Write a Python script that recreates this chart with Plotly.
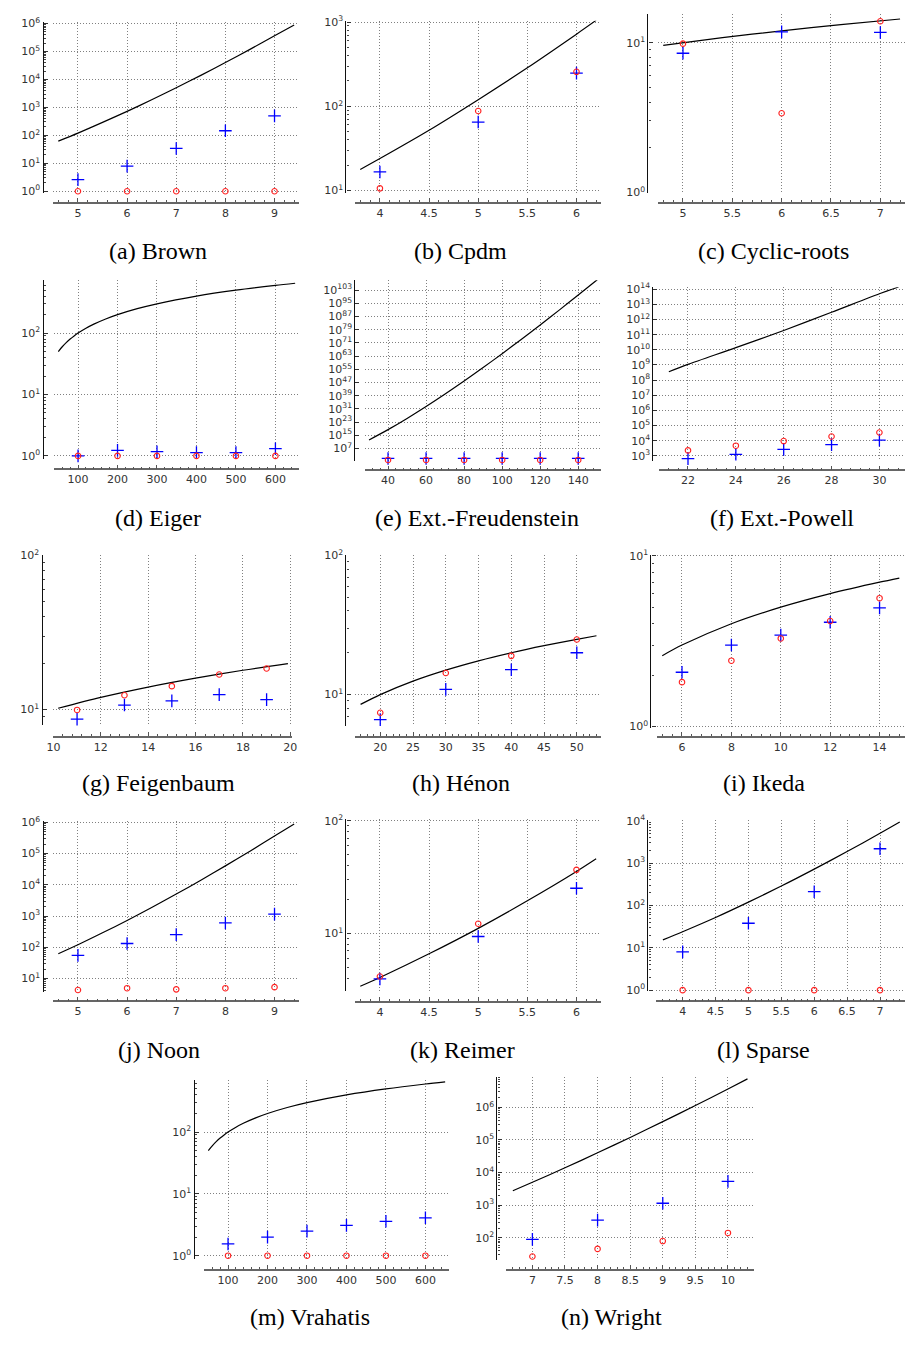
import plotly.graph_objects as go

W, H = 910, 1346

# ---------------- data ----------------
# (a) Brown
brown_n = [5, 6, 7, 8, 9]
brown_plus = [2.6, 7.9, 34, 146, 495]
brown_circ = [1, 1, 1, 1, 1]
brown_curve_x = [4.6, 5, 5.5, 6, 6.5, 7, 7.5, 8, 8.5, 9, 9.4]
brown_curve_y = [62, 120, 290, 720, 1870, 5040, 14000, 40300, 119000, 363000, 880000]
brown_xticks = [5, 6, 7, 8, 9]
brown_ydec = [0, 1, 2, 3, 4, 5, 6]

# (b) Cpdm
cpdm_n = [4, 5, 6]
cpdm_plus = [16.6, 65, 248]
cpdm_circ = [10.6, 88, 257]
cpdm_curve_x = [3.8, 4, 4.5, 5, 5.5, 6, 6.2]
cpdm_curve_y = [17.8, 24, 52, 120, 287, 720, 1050]
cpdm_xticks = [4, 4.5, 5, 5.5, 6]
cpdm_ydec = [1, 2, 3]

# (c) Cyclic-roots
cyc_n = [5, 6, 7]
cyc_plus = [8.5, 11.8, 11.7]
cyc_circ = [9.85, 3.38, 13.9]
cyc_curve_x = [4.8, 5.4, 6, 6.6, 7.2]
cyc_curve_y = [9.6, 10.8, 12, 13.2, 14.4]
cyc_xticks = [5, 5.5, 6, 6.5, 7]
cyc_ydec = [0, 1]

# (d) Eiger
eig_n = [100, 200, 300, 400, 500, 600]
eig_plus = [1.0, 1.23, 1.17, 1.13, 1.13, 1.31]
eig_circ = [1, 1, 1, 1, 1, 1]
eig_curve_x = [50, 60, 70, 80, 90, 100, 120, 140, 170, 200, 250, 300, 400, 500, 600, 650]
eig_curve_y = [50, 60, 70, 80, 90, 100, 120, 140, 170, 200, 250, 300, 400, 500, 600, 650]
eig_xticks = [100, 200, 300, 400, 500, 600]
eig_ydec = [0, 1, 2]

# (e) Ext.-Freudenstein
fre_n = [40, 60, 80, 100, 120, 140]
fre_plus = [8, 8, 8, 8, 8, 8]
fre_circ = [1, 1, 1, 1, 1, 1]
fre_curve_x = [30, 40, 50, 60, 70, 80, 90, 100, 110, 120, 130, 140, 150]
fre_curve_y = [1.31e12, 2.43e18, 1.55e25, 2.65e32, 1.03e40, 8.16e47, 1.20e56,
               3.04e64, 1.27e73, 8.32e81, 8.25e90, 1.20e100, 2.48e109]
fre_xticks = [40, 60, 80, 100, 120, 140]
fre_ydec = [7, 15, 23, 31, 39, 47, 55, 63, 71, 79, 87, 95, 103]

# (f) Ext.-Powell
pow_n = [22, 24, 26, 28, 30]
pow_plus = [660, 1270, 2700, 5500, 11000]
pow_circ = [2300, 4700, 9500, 19000, 35000]
pow_curve_x = [21.2, 22, 24, 26, 28, 30, 30.8]
pow_curve_y = [3.6e8, 1.1e9, 1.4e10, 1.9e11, 3.0e12, 5.0e13, 1.4e14]
pow_xticks = [22, 24, 26, 28, 30]
pow_ydec = [3, 4, 5, 6, 7, 8, 9, 10, 11, 12, 13, 14]

# (g) Feigenbaum
fei_n = [11, 13, 15, 17, 19]
fei_plus = [8.66, 10.7, 11.4, 12.5, 11.6]
fei_circ = [9.95, 12.4, 14.2, 16.9, 18.5]
fei_curve_x = [10.2, 12, 14, 16, 18, 19.9]
fei_curve_y = [10.2, 12, 14, 16, 18, 19.9]
fei_xticks = [10, 12, 14, 16, 18, 20]
fei_ydec = [1, 2]

# (h) Hénon
hen_n = [20, 30, 40, 50]
hen_plus = [6.6, 10.9, 15.1, 20]
hen_circ = [7.4, 14.3, 19, 24.9]
hen_curve_x = [17, 20, 25, 30, 35, 40, 45, 50, 53]
hen_curve_y = [8.5, 10, 12.5, 15, 17.5, 20, 22.5, 25, 26.5]
hen_xticks = [20, 25, 30, 35, 40, 45, 50]
hen_ydec = [1, 2]

# (i) Ikeda
ike_n = [6, 8, 10, 12, 14]
ike_plus = [2.08, 3.0, 3.43, 4.08, 4.95]
ike_circ = [1.82, 2.43, 3.28, 4.15, 5.64]
ike_curve_x = [5.2, 6, 8, 10, 12, 14, 14.8]
ike_curve_y = [2.6, 3, 4, 5, 6, 7, 7.4]
ike_xticks = [6, 8, 10, 12, 14]
ike_ydec = [0, 1]

# (j) Noon
noon_n = [5, 6, 7, 8, 9]
noon_plus = [55, 132, 255, 600, 1150]
noon_circ = [4.3, 4.9, 4.5, 4.9, 5.3]
noon_curve_x = [4.6, 5, 5.5, 6, 6.5, 7, 7.5, 8, 8.5, 9, 9.4]
noon_curve_y = [62, 120, 290, 720, 1870, 5040, 14000, 40300, 119000, 363000, 880000]
noon_xticks = [5, 6, 7, 8, 9]
noon_ydec = [1, 2, 3, 4, 5, 6]

# (k) Reimer
rei_n = [4, 5, 6]
rei_plus = [3.95, 9.4, 25.2]
rei_circ = [4.15, 12.2, 36.7]
rei_curve_x = [3.8, 4, 4.5, 5, 5.5, 6, 6.2]
rei_curve_y = [3.4, 4.07, 6.6, 11.1, 19.5, 35.5, 46]
rei_xticks = [4, 4.5, 5, 5.5, 6]
rei_ydec = [1, 2]

# (l) Sparse
spa_n = [4, 5, 6, 7]
spa_plus = [8.0, 38, 211, 2180]
spa_circ = [1, 1, 1, 1]
spa_curve_x = [3.7, 4, 4.5, 5, 5.5, 6, 6.5, 7, 7.3]
spa_curve_y = [15.4, 24, 52, 120, 287, 720, 1870, 5040, 9300]
spa_xticks = [4, 4.5, 5, 5.5, 6, 6.5, 7]
spa_ydec = [0, 1, 2, 3, 4]

# (m) Vrahatis
vra_n = [100, 200, 300, 400, 500, 600]
vra_plus = [1.55, 2.0, 2.5, 3.1, 3.6, 4.1]
vra_circ = [1, 1, 1, 1, 1, 1]
vra_curve_x = [50, 60, 70, 80, 90, 100, 120, 140, 170, 200, 250, 300, 400, 500, 600, 650]
vra_curve_y = [50, 60, 70, 80, 90, 100, 120, 140, 170, 200, 250, 300, 400, 500, 600, 650]
vra_xticks = [100, 200, 300, 400, 500, 600]
vra_ydec = [0, 1, 2]

# (n) Wright
wri_n = [7, 8, 9, 10]
wri_plus = [90, 350, 1150, 5400]
wri_circ = [27, 46, 80, 142]
wri_curve_x = [6.7, 7, 7.5, 8, 8.5, 9, 9.5, 10, 10.3]
wri_curve_y = [2770, 5040, 14000, 40300, 119000, 363000, 1130000, 3630000, 7400000]
wri_xticks = [7, 7.5, 8, 8.5, 9, 9.5, 10]
wri_ydec = [2, 3, 4, 5, 6]

panels = [
    ("(a) Brown", brown_n, brown_plus, brown_circ, brown_curve_x, brown_curve_y, brown_xticks, brown_ydec),
    ("(b) Cpdm", cpdm_n, cpdm_plus, cpdm_circ, cpdm_curve_x, cpdm_curve_y, cpdm_xticks, cpdm_ydec),
    ("(c) Cyclic-roots", cyc_n, cyc_plus, cyc_circ, cyc_curve_x, cyc_curve_y, cyc_xticks, cyc_ydec),
    ("(d) Eiger", eig_n, eig_plus, eig_circ, eig_curve_x, eig_curve_y, eig_xticks, eig_ydec),
    ("(e) Ext.-Freudenstein", fre_n, fre_plus, fre_circ, fre_curve_x, fre_curve_y, fre_xticks, fre_ydec),
    ("(f) Ext.-Powell", pow_n, pow_plus, pow_circ, pow_curve_x, pow_curve_y, pow_xticks, pow_ydec),
    ("(g) Feigenbaum", fei_n, fei_plus, fei_circ, fei_curve_x, fei_curve_y, fei_xticks, fei_ydec),
    ("(h) Hénon", hen_n, hen_plus, hen_circ, hen_curve_x, hen_curve_y, hen_xticks, hen_ydec),
    ("(i) Ikeda", ike_n, ike_plus, ike_circ, ike_curve_x, ike_curve_y, ike_xticks, ike_ydec),
    ("(j) Noon", noon_n, noon_plus, noon_circ, noon_curve_x, noon_curve_y, noon_xticks, noon_ydec),
    ("(k) Reimer", rei_n, rei_plus, rei_circ, rei_curve_x, rei_curve_y, rei_xticks, rei_ydec),
    ("(l) Sparse", spa_n, spa_plus, spa_circ, spa_curve_x, spa_curve_y, spa_xticks, spa_ydec),
    ("(m) Vrahatis", vra_n, vra_plus, vra_circ, vra_curve_x, vra_curve_y, vra_xticks, vra_ydec),
    ("(n) Wright", wri_n, wri_plus, wri_circ, wri_curve_x, wri_curve_y, wri_xticks, wri_ydec),
]

# ---------------- layout geometry (pixels) ----------------
geom = [
    dict(l=47, r=296, t=15, b=188, ys=36, xs=198, xr=[4.5, 9.5], yr=[-0.07, 6.06], xm=0.2, ym="D1", cap=(153, 246)),
    dict(l=353, r=602, t=14, b=188, ys=343, xs=198, xr=[3.75, 6.25], yr=[0.968, 3.015], xm=0.1, ym="D1", cap=(460, 246)),
    dict(l=660, r=910, t=7, b=188, ys=649, xs=198, xr=[4.75, 7.25], yr=[-0.005, 1.192], xm=0.1, ym="D1", cap=(777, 246)),
    dict(l=48, r=296, t=276, b=456, ys=36, xs=467, xr=[40, 660], yr=[-0.044, 2.86], xm=20, ym="D1", cap=(153, 516)),
    dict(l=363, r=602, t=276, b=458, ys=352, xs=468, xr=[28, 152], yr=[-0.39, 109.0], xm=4, ym=None, cap=(476, 516)),
    dict(l=661, r=910, t=283, b=458, ys=654, xs=468, xr=[20.8, 31.07], yr=[2.69, 14.13], xm=0.4, ym=None, cap=(785, 516)),
    dict(l=47, r=289, t=553, b=725, ys=35, xs=737, xr=[10, 20.08], yr=[0.9, 2.006], xm=0.4, ym="D1", cap=(154, 784)),
    dict(l=353, r=602, t=553, b=726, ys=343, xs=737, xr=[16.2, 53.7], yr=[0.774, 2.007], xm=1, ym="D1", cap=(460, 784)),
    dict(l=659, r=910, t=553, b=728, ys=652, xs=737, xr=[5, 15.03], yr=[-0.008, 1.006], xm=0.4, ym="D1", cap=(767, 784)),
    dict(l=47, r=296, t=822, b=995, ys=36, xs=1004, xr=[4.5, 9.5], yr=[0.556, 6.04], xm=0.2, ym="D1", cap=(154, 1053)),
    dict(l=353, r=602, t=820, b=994, ys=343, xs=1005, xr=[3.75, 6.25], yr=[0.486, 2.015], xm=0.1, ym="D1", cap=(462, 1053)),
    dict(l=658, r=910, t=821, b=994, ys=649, xs=1004, xr=[3.6, 7.38], yr=[-0.03, 4.016], xm=0.1, ym="D1", cap=(767, 1053)),
    dict(l=200, r=448, t=1083, b=1264, ys=189, xs=1275, xr=[40, 660], yr=[-0.05, 2.85], xm=20, ym="D1", cap=(307, 1323)),
    dict(l=506, r=757, t=1080, b=1265, ys=496, xs=1275, xr=[6.6, 10.4], yr=[1.33, 6.94], xm=0.1, ym="D1", cap=(613, 1323)),
]

TICKFONT = dict(family="DejaVu Sans", size=11, color="#333333")
GRID = dict(showgrid=True, gridcolor="#808080", griddash="1px,2px", gridwidth=1)

fig = go.Figure()
layout = {}
annotations = []
for i, (p, g) in enumerate(zip(panels, geom), start=1):
    cap, xn, plus, circ, cx, cy, xt, yd = p
    xa = "x" if i == 1 else f"x{i}"
    ya = "y" if i == 1 else f"y{i}"
    fig.add_trace(go.Scatter(x=cx, y=cy, mode="lines", xaxis=xa, yaxis=ya,
                             line=dict(color="black", width=1.2, shape="spline", smoothing=0.8),
                             showlegend=False, hoverinfo="skip"))
    fig.add_trace(go.Scatter(x=xn, y=plus, mode="markers", xaxis=xa, yaxis=ya,
                             marker=dict(symbol="cross-thin", size=9,
                                         line=dict(color="#0000ff", width=1.3)),
                             cliponaxis=False, showlegend=False))
    fig.add_trace(go.Scatter(x=xn, y=circ, mode="markers", xaxis=xa, yaxis=ya,
                             marker=dict(symbol="circle-open", size=5.5, color="#ff2020",
                                         line=dict(color="#ff2020", width=1.1)),
                             cliponaxis=False, showlegend=False))

    xkey = "xaxis" if i == 1 else f"xaxis{i}"
    ykey = "yaxis" if i == 1 else f"yaxis{i}"
    layout[xkey] = dict(
        domain=[g["l"] / W, min(g["r"] / W, 1.0)], range=g["xr"],
        anchor="free", position=1 - g["xs"] / H,
        tickmode="array", tickvals=xt, ticktext=[f"{v:g}" for v in xt],
        showline=True, linecolor="#666666", linewidth=1.6,
        ticks="inside", ticklen=4, tickcolor="#555555", tickwidth=1,
        zeroline=False, tickfont=TICKFONT,
        minor=dict(ticks="inside", ticklen=2, tickcolor="#555555", dtick=g["xm"],
                   tick0=0, showgrid=False),
        **GRID,
    )
    yminor = dict(ticks="inside", ticklen=2, tickcolor="#444444", showgrid=False)
    if g["ym"] is not None:
        yminor["dtick"] = g["ym"]
    else:
        yminor["ticks"] = ""
    layout[ykey] = dict(
        type="log", domain=[1 - g["b"] / H, 1 - g["t"] / H], range=g["yr"],
        anchor="free", position=g["ys"] / W,
        tickmode="array", tickvals=[10.0 ** k for k in yd],
        ticktext=[f"10<sup>{k}</sup>" for k in yd],
        showline=True, linecolor="#111111", linewidth=1.2,
        ticks="inside", ticklen=4, tickcolor="#333333", tickwidth=1,
        zeroline=False, tickfont=TICKFONT, minor=yminor,
        **GRID,
    )
    annotations.append(dict(text=cap, x=g["cap"][0] / W, y=1 - g["cap"][1] / H,
                            xref="paper", yref="paper", showarrow=False,
                            xanchor="center", yanchor="middle",
                            font=dict(family="Liberation Serif", size=24, color="black")))

fig.update_layout(
    width=W, height=H, margin=dict(l=0, r=0, t=0, b=0),
    paper_bgcolor="white", plot_bgcolor="white",
    annotations=annotations, showlegend=False, **layout,
)

fig.write_html("out.html",
               config={"displayModeBar": False},
               post_script="document.body.style.margin='0';document.body.style.padding='0';")
